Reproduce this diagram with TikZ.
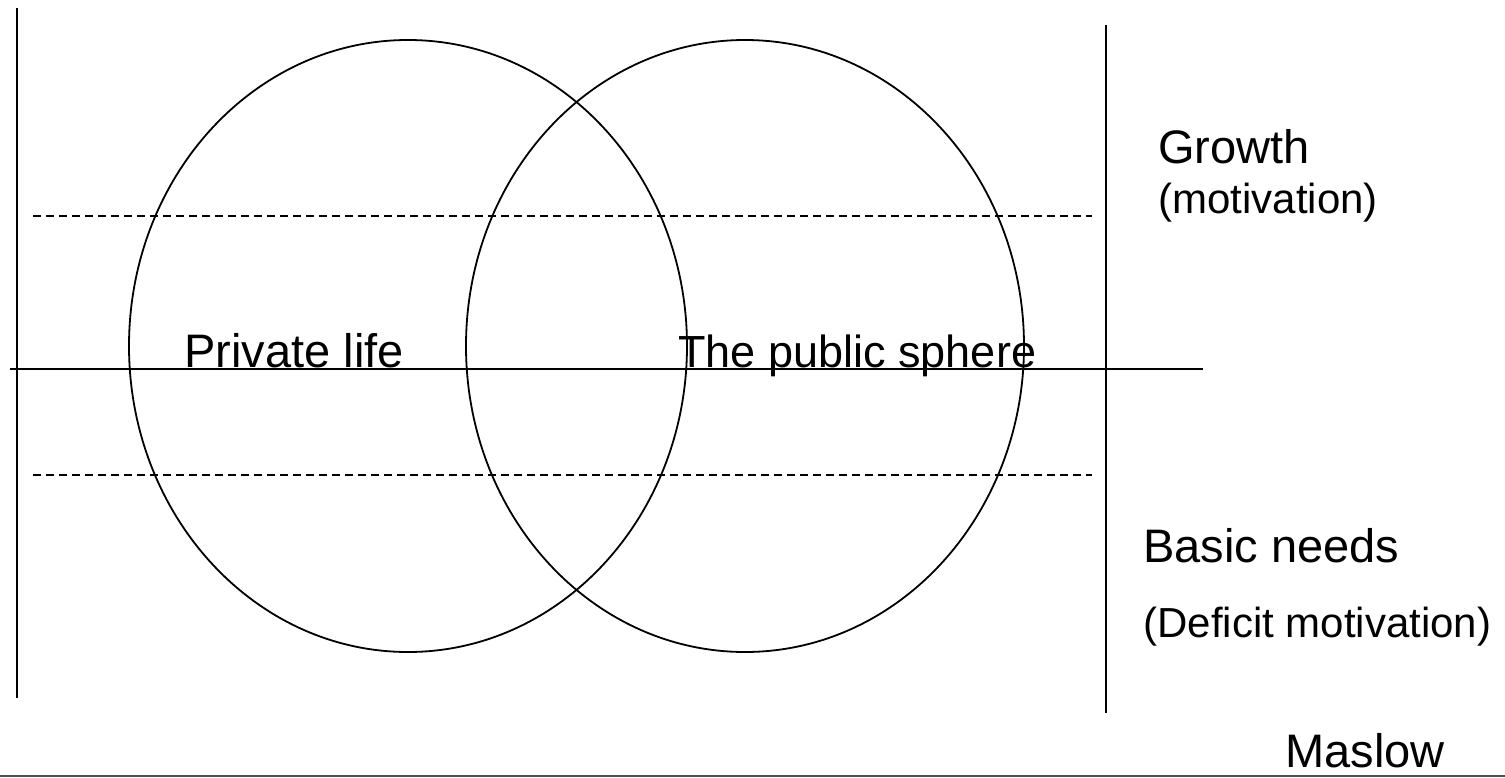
\documentclass[tikz,border=0pt]{standalone}
\usepackage{fontspec}
\setmainfont{Liberation Sans}
\begin{document}
\begin{tikzpicture}[x=0.5pt,y=-0.5pt,
  solidline/.style={line width=1pt,black},
  dashline/.style={line width=0.75pt,black,dash pattern=on 4pt off 2.5pt},
  ring/.style={line width=0.9pt,black},
  bigtxt/.style={inner sep=0pt,anchor=base west,font=\fontsize{23.5pt}{28pt}\selectfont},
  smalltxt/.style={inner sep=0pt,anchor=base west,font=\fontsize{21pt}{25pt}\selectfont}]
\useasboundingbox (0,0) rectangle (1505,777);
% frame lines
\draw[solidline] (17,8) -- (17,698);
\draw[solidline] (1106,25) -- (1106,713);
\draw[solidline] (10,369) -- (1203,369);
\draw[dashline] (33,216) -- (1092,216);
\draw[dashline] (33,475) -- (1092,475);
% circles
\draw[ring] (408,346) ellipse [x radius=139.5pt, y radius=153pt];
\draw[ring] (745,346) ellipse [x radius=139.5pt, y radius=153pt];
% labels
\node[bigtxt] (priv) at (184,367) {Private life};
\node[bigtxt,font=\fontsize{22.5pt}{27pt}\selectfont] (pub) at (678,367) {The public sphere};
\node[bigtxt] (growth) at (1158,163) {Growth};
\node[smalltxt] (motiv) at (1158,213) {(motivation)};
\node[bigtxt] (basic) at (1143,562) {Basic needs};
\node[smalltxt] (defic) at (1143,637) {(Deficit motivation)};
\node[bigtxt] (maslow) at (1285,767) {Maslow};
% bottom rule
\draw[line width=1pt,black!70] (0,776) -- (1505,776);
\end{tikzpicture}
\end{document}
